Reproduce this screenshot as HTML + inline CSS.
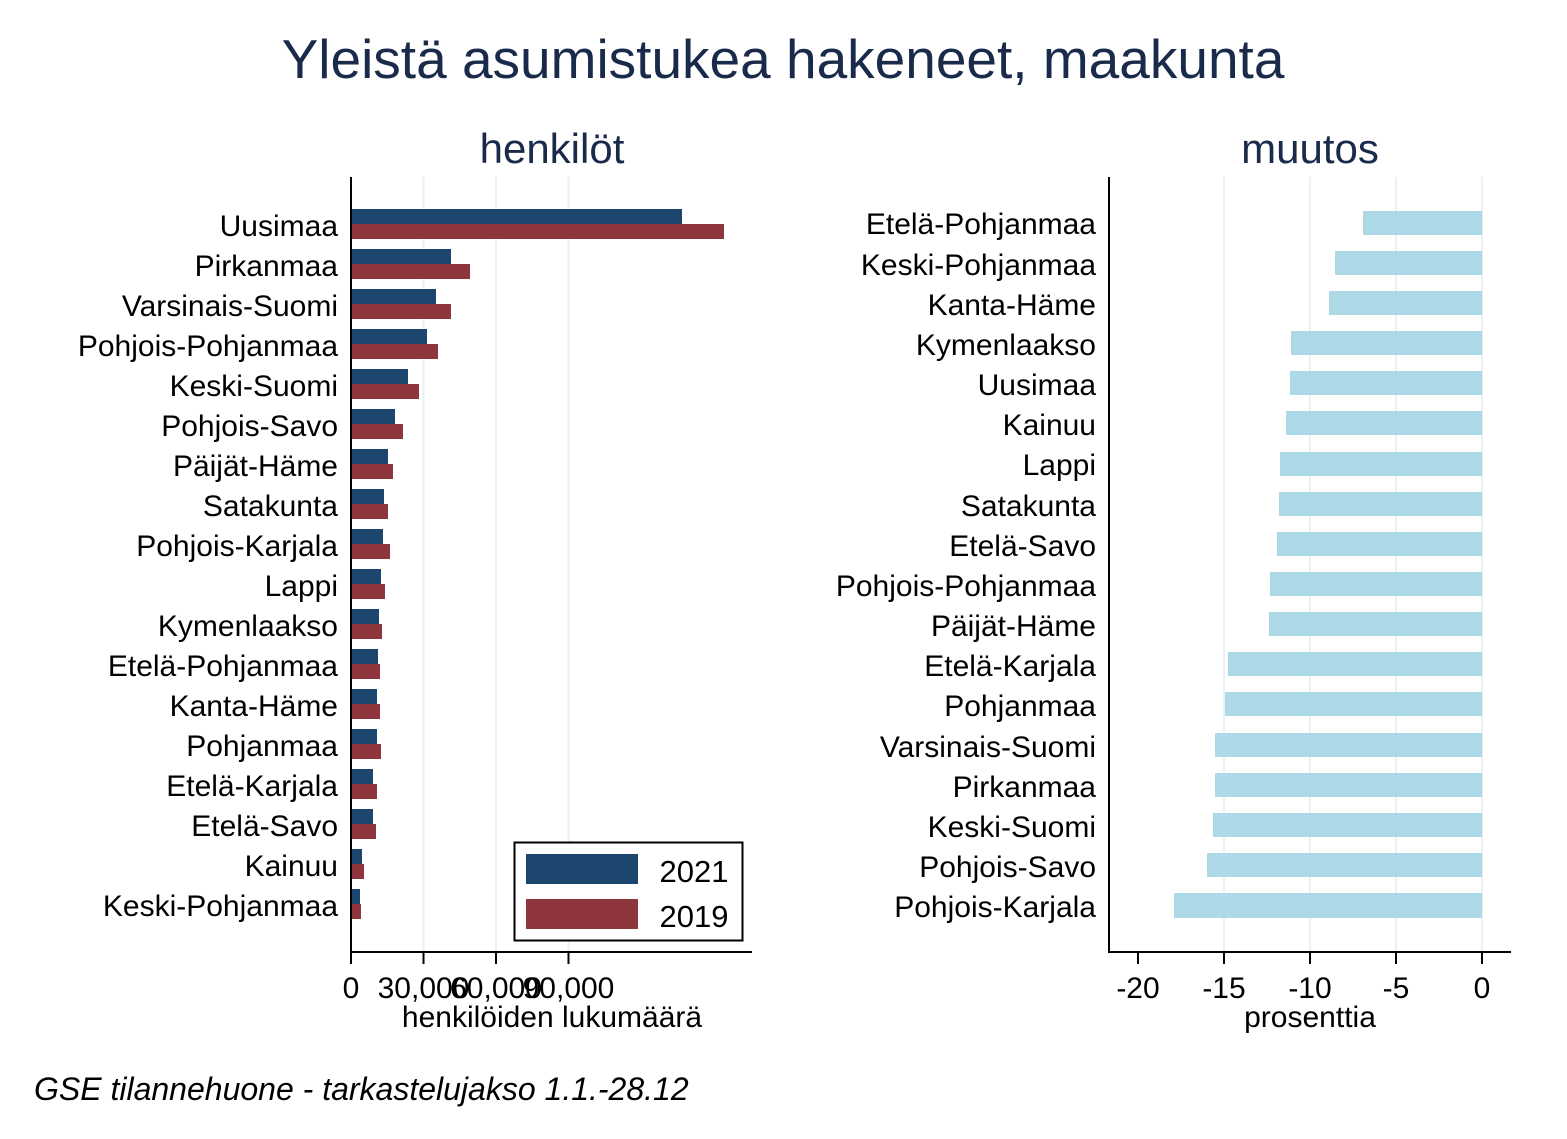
<!DOCTYPE html>
<html><head><meta charset="utf-8"><style>body{margin:0;background:#fff}svg{display:block}text{font-family:"Liberation Sans",Arial,sans-serif}</style></head><body>
<svg width="1567" height="1139" viewBox="0 0 1567 1139" xmlns="http://www.w3.org/2000/svg">
<rect width="1567" height="1139" fill="#fff"/>
<text x="783" y="78" font-size="55" fill="#1a2a4a" text-anchor="middle">Yleistä asumistukea hakeneet, maakunta</text>
<text x="552" y="163" font-size="42" fill="#1a2a4a" text-anchor="middle">henkilöt</text>
<text x="1310" y="163" font-size="42" fill="#1a2a4a" text-anchor="middle">muutos</text>
<g stroke="#eaf1f4" stroke-width="2">
<line x1="423.5" y1="177" x2="423.5" y2="952"/><line x1="496" y1="177" x2="496" y2="952"/><line x1="568.5" y1="177" x2="568.5" y2="952"/>
<line x1="1224" y1="177" x2="1224" y2="952"/><line x1="1310" y1="177" x2="1310" y2="952"/><line x1="1396" y1="177" x2="1396" y2="952"/><line x1="1482" y1="177" x2="1482" y2="952"/>
</g>
<g font-size="30" fill="#000" text-anchor="end">
<text x="338" y="236">Uusimaa</text><text x="338" y="276">Pirkanmaa</text><text x="338" y="316">Varsinais-Suomi</text><text x="338" y="356">Pohjois-Pohjanmaa</text><text x="338" y="396">Keski-Suomi</text><text x="338" y="436">Pohjois-Savo</text><text x="338" y="476">Päijät-Häme</text><text x="338" y="516">Satakunta</text><text x="338" y="556">Pohjois-Karjala</text><text x="338" y="596">Lappi</text><text x="338" y="636">Kymenlaakso</text><text x="338" y="676">Etelä-Pohjanmaa</text><text x="338" y="716">Kanta-Häme</text><text x="338" y="756">Pohjanmaa</text><text x="338" y="796">Etelä-Karjala</text><text x="338" y="836">Etelä-Savo</text><text x="338" y="876">Kainuu</text><text x="338" y="916">Keski-Pohjanmaa</text>
</g>
<g fill="#1c466e">
<rect x="351" y="209" width="331" height="15"/><rect x="351" y="249" width="100" height="15"/><rect x="351" y="289" width="85" height="15"/><rect x="351" y="329" width="76" height="15"/><rect x="351" y="369" width="57" height="15"/><rect x="351" y="409" width="44" height="15"/><rect x="351" y="449" width="37" height="15"/><rect x="351" y="489" width="33" height="15"/><rect x="351" y="529" width="32" height="15"/><rect x="351" y="569" width="30" height="15"/><rect x="351" y="609" width="28" height="15"/><rect x="351" y="649" width="27" height="15"/><rect x="351" y="689" width="26" height="15"/><rect x="351" y="729" width="26" height="15"/><rect x="351" y="769" width="22" height="15"/><rect x="351" y="809" width="22" height="15"/><rect x="351" y="849" width="11" height="15"/><rect x="351" y="889" width="9" height="15"/>
</g>
<g fill="#8e353e">
<rect x="351" y="224" width="373" height="15"/><rect x="351" y="264" width="119" height="15"/><rect x="351" y="304" width="100" height="15"/><rect x="351" y="344" width="87" height="15"/><rect x="351" y="384" width="68" height="15"/><rect x="351" y="424" width="52" height="15"/><rect x="351" y="464" width="42" height="15"/><rect x="351" y="504" width="37" height="15"/><rect x="351" y="544" width="39" height="15"/><rect x="351" y="584" width="34" height="15"/><rect x="351" y="624" width="31" height="15"/><rect x="351" y="664" width="29" height="15"/><rect x="351" y="704" width="29" height="15"/><rect x="351" y="744" width="30" height="15"/><rect x="351" y="784" width="26" height="15"/><rect x="351" y="824" width="25" height="15"/><rect x="351" y="864" width="13" height="15"/><rect x="351" y="904" width="10" height="15"/>
</g>
<g stroke="#000" stroke-width="2">
<line x1="351" y1="177" x2="351" y2="953"/><line x1="350" y1="952" x2="752" y2="952"/>
<line x1="351" y1="952" x2="351" y2="964"/><line x1="423.5" y1="952" x2="423.5" y2="964"/><line x1="496" y1="952" x2="496" y2="964"/><line x1="568.5" y1="952" x2="568.5" y2="964"/>
</g>
<g font-size="30" text-anchor="middle"><text x="351" y="998">0</text><text x="423.5" y="998">30,000</text><text x="496" y="998">60,000</text><text x="568.5" y="998">90,000</text></g>
<text x="552" y="1027" font-size="30" text-anchor="middle">henkilöiden lukumäärä</text>
<rect x="514.5" y="842.5" width="228" height="98" fill="#fff" stroke="#000" stroke-width="2"/>
<rect x="526" y="854" width="112" height="30" fill="#1c466e"/><rect x="526" y="899" width="112" height="30" fill="#8e353e"/>
<text x="694" y="882" font-size="31" text-anchor="middle">2021</text><text x="694" y="927" font-size="31" text-anchor="middle">2019</text>
<g font-size="30" fill="#000" text-anchor="end">
<text x="1096" y="234">Etelä-Pohjanmaa</text><text x="1096" y="275">Keski-Pohjanmaa</text><text x="1096" y="315">Kanta-Häme</text><text x="1096" y="355">Kymenlaakso</text><text x="1096" y="395">Uusimaa</text><text x="1096" y="435">Kainuu</text><text x="1096" y="475">Lappi</text><text x="1096" y="516">Satakunta</text><text x="1096" y="556">Etelä-Savo</text><text x="1096" y="596">Pohjois-Pohjanmaa</text><text x="1096" y="636">Päijät-Häme</text><text x="1096" y="676">Etelä-Karjala</text><text x="1096" y="716">Pohjanmaa</text><text x="1096" y="757">Varsinais-Suomi</text><text x="1096" y="797">Pirkanmaa</text><text x="1096" y="837">Keski-Suomi</text><text x="1096" y="877">Pohjois-Savo</text><text x="1096" y="917">Pohjois-Karjala</text>
</g>
<g fill="#add8e6">
<rect x="1363" y="211" width="119" height="24"/><rect x="1335" y="251" width="147" height="24"/><rect x="1329" y="291" width="153" height="24"/><rect x="1291" y="331" width="191" height="24"/><rect x="1290" y="371" width="192" height="24"/><rect x="1286" y="411" width="196" height="24"/><rect x="1280" y="452" width="202" height="24"/><rect x="1279" y="492" width="203" height="24"/><rect x="1277" y="532" width="205" height="24"/><rect x="1270" y="572" width="212" height="24"/><rect x="1269" y="612" width="213" height="24"/><rect x="1228" y="652" width="254" height="24"/><rect x="1225" y="692" width="257" height="24"/><rect x="1215" y="733" width="267" height="24"/><rect x="1215" y="773" width="267" height="24"/><rect x="1213" y="813" width="269" height="24"/><rect x="1207" y="853" width="275" height="24"/><rect x="1174" y="893" width="308" height="25"/>
</g>
<g stroke="#000" stroke-width="2">
<line x1="1109" y1="177" x2="1109" y2="953"/><line x1="1108" y1="952" x2="1511" y2="952"/>
<line x1="1138" y1="952" x2="1138" y2="964"/><line x1="1224" y1="952" x2="1224" y2="964"/><line x1="1310" y1="952" x2="1310" y2="964"/><line x1="1396" y1="952" x2="1396" y2="964"/><line x1="1482" y1="952" x2="1482" y2="964"/>
</g>
<g font-size="30" text-anchor="middle"><text x="1138" y="998">-20</text><text x="1224" y="998">-15</text><text x="1310" y="998">-10</text><text x="1396" y="998">-5</text><text x="1482" y="998">0</text></g>
<text x="1310" y="1027" font-size="30" text-anchor="middle">prosenttia</text>
<text x="34" y="1100" font-size="32" font-style="italic">GSE tilannehuone - tarkastelujakso 1.1.-28.12</text>
</svg>
</body></html>
